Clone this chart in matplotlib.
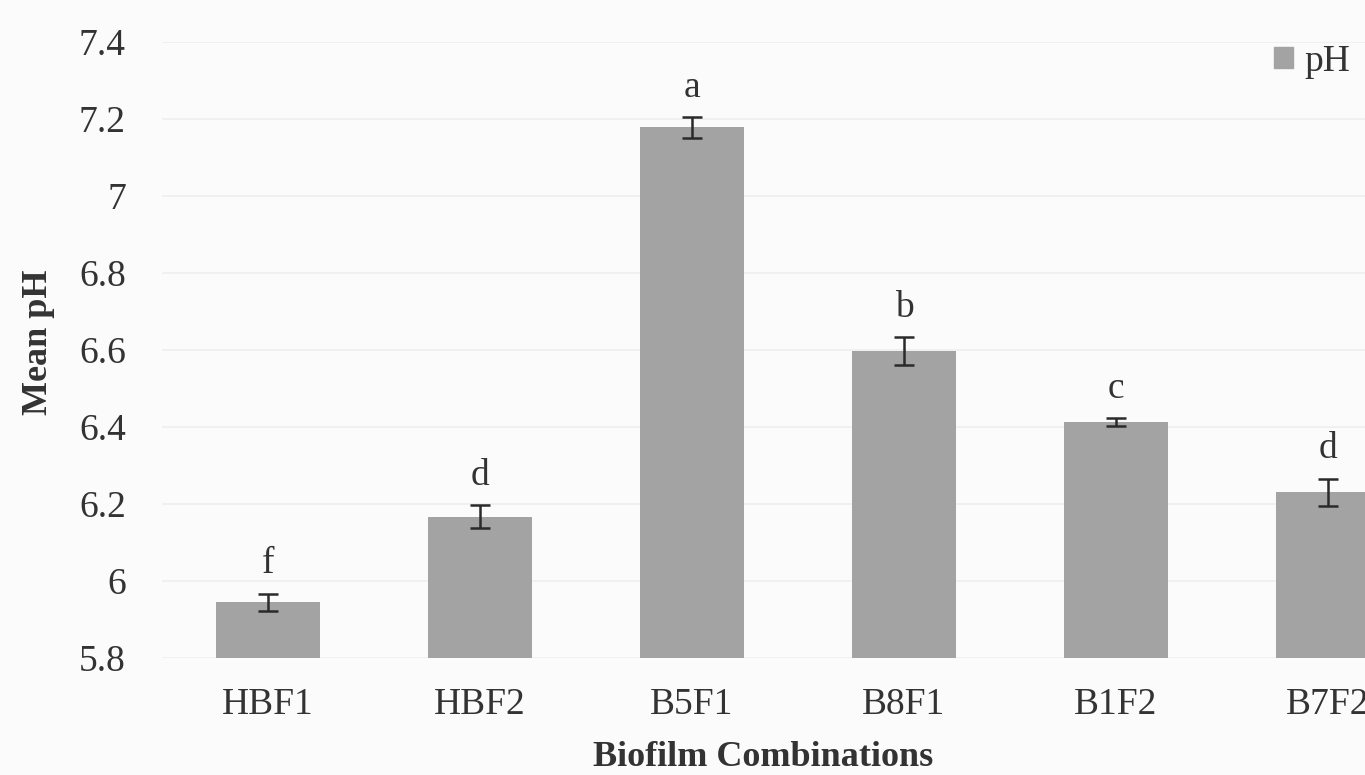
import matplotlib
matplotlib.use("Agg")
import matplotlib.pyplot as plt
from matplotlib.patches import Patch

categories = ["HBF1", "HBF2", "B5F1", "B8F1", "B1F2", "B7F2"]
mean_ph = [5.945, 6.167, 7.178, 6.597, 6.413, 6.231]
err_ph = [0.022, 0.03, 0.027, 0.036, 0.01, 0.035]
letters = ["f", "d", "a", "b", "c", "d"]
yticks = [5.8, 6.0, 6.2, 6.4, 6.6, 6.8, 7.0, 7.2, 7.4]
ytick_labels = ["5.8", "6", "6.2", "6.4", "6.6", "6.8", "7", "7.2", "7.4"]

plt.rcParams['font.family'] = ['Liberation Serif', 'DejaVu Serif']
txt = '#333333'
bar_color = '#a3a3a3'

fig = plt.figure(figsize=(13.65, 7.75), dpi=100, facecolor='#fbfbfb')
ax = fig.add_axes([162 / 1365, 117 / 775, 1 - 162 / 1365, 616 / 775])
ax.set_facecolor('#fbfbfb')

x = list(range(len(categories)))
ax.bar(x, [m - 5.8 for m in mean_ph], bottom=5.8, width=0.49, color=bar_color, zorder=2)
ax.errorbar(x, mean_ph, yerr=err_ph, fmt='none', ecolor='#2a2a2a', elinewidth=1.8,
            capsize=7.5, capthick=1.8, zorder=3)
for xi, m, e, l in zip(x, mean_ph, err_ph, letters):
    ax.text(xi, m + e + 0.032, l, ha='center', va='bottom', fontsize=27, color=txt)

ax.set_xlim(-0.5, 5.175)
ax.set_ylim(5.8, 7.4)
ax.set_yticks(yticks)
ax.set_yticklabels(ytick_labels)
ax.set_xticks(x)
ax.set_xticklabels(categories)
ax.tick_params(axis='both', length=0, labelsize=27, labelcolor=txt)
ax.tick_params(axis='y', pad=26)
ax.tick_params(axis='x', pad=21)
ax.yaxis.grid(True, color='#eeeeee', linewidth=1.2, zorder=0)
for s in ax.spines.values():
    s.set_visible(False)

ax.set_ylabel("Mean pH", fontsize=26, fontweight='bold', color=txt)
ax.yaxis.set_label_coords(-0.089, 0.513)
ax.set_xlabel("Biofilm Combinations", fontsize=26, fontweight='bold', color=txt, labelpad=14)

fig.legend(handles=[Patch(color=bar_color, label='pH')], loc='upper right',
           bbox_to_anchor=(1.014, 0.986), frameon=False, fontsize=27,
           handlelength=0.5, handleheight=0.5, handletextpad=0.3, labelcolor=txt)

fig.savefig("out.png", dpi=100, facecolor=fig.get_facecolor())
